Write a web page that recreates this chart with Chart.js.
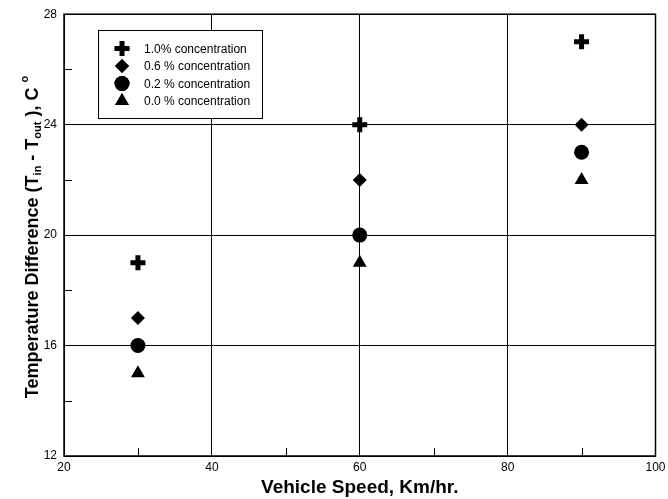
<!DOCTYPE html>
<html>
<head>
<meta charset="utf-8">
<script src="https://cdn.jsdelivr.net/npm/chart.js@4"></script>
<style>
html,body{margin:0;padding:0;background:#fff;}
#wrap{width:668px;height:499px;position:relative;}
</style>
</head>
<body>
<div id="wrap"><canvas id="c" width="668" height="499"></canvas></div>
<script>
const speeds = [30, 60, 90];
const conc10 = [19, 24, 27];
const conc06 = [17, 22, 24];
const conc02 = [16, 20, 23];
const conc00 = [15, 19, 22];
const seriesLabels = ['1.0% concentration', '0.6 % concentration', '0.2 % concentration', '0.0 % concentration'];
const xTicks = [20, 40, 60, 80, 100];
const yTicks = [12, 16, 20, 24, 28];
const xMinor = [30, 50, 70, 90];
const yMinor = [14, 18, 22, 26];

const styles = [
  {pointStyle: 'cross', radius: 7.5, borderWidth: 5},
  {pointStyle: 'rectRot', radius: 7, borderWidth: 0},
  {pointStyle: 'circle', radius: 7.5, borderWidth: 0},
  {pointStyle: 'triangle', radius: 8, borderWidth: 0}
];
const allData = [conc10, conc06, conc02, conc00];

const datasets = allData.map((vals, i) => ({
  label: seriesLabels[i],
  data: speeds.map((s, j) => ({x: s, y: vals[j]})),
  showLine: false,
  pointStyle: styles[i].pointStyle,
  pointRadius: styles[i].radius,
  pointHoverRadius: styles[i].radius,
  pointBorderWidth: styles[i].borderWidth,
  pointBackgroundColor: '#000',
  pointBorderColor: '#000',
  backgroundColor: '#000',
  borderColor: '#000'
}));

const FONT = '"Liberation Sans", Arial, sans-serif';

const decor = {
  id: 'decor',
  beforeDatasetsDraw(chart) {
    const ctx = chart.ctx, a = chart.chartArea, xs = chart.scales.x, ys = chart.scales.y;
    ctx.save();
    ctx.strokeStyle = '#000';
    ctx.lineWidth = 1;
    ctx.beginPath();
    xMinor.forEach(v => {
      const px = Math.round(xs.getPixelForValue(v)) + 0.5;
      ctx.moveTo(px, a.bottom); ctx.lineTo(px, a.bottom - 8);
    });
    yMinor.forEach(v => {
      const py = Math.round(ys.getPixelForValue(v)) + 0.5;
      ctx.moveTo(a.left, py); ctx.lineTo(a.left + 8, py);
    });
    ctx.stroke();
    ctx.lineWidth = 1.5;
    ctx.strokeRect(a.left, a.top, a.right - a.left, a.bottom - a.top);
    ctx.restore();
  },
  afterDraw(chart) {
    const ctx = chart.ctx;
    ctx.save();
    const lx = 98.5, ly = 30.5, lw = 164, lh = 88;
    ctx.fillStyle = '#fff';
    ctx.fillRect(lx, ly, lw, lh);
    ctx.strokeStyle = '#000';
    ctx.lineWidth = 1;
    ctx.strokeRect(lx, ly, lw, lh);
    const rowsY = [48.5, 66, 83.5, 101];
    ctx.font = '12px ' + FONT;
    ctx.textBaseline = 'middle';
    ctx.textAlign = 'left';
    seriesLabels.forEach((lab, i) => {
      Chart.helpers.drawPoint(ctx, {
        pointStyle: styles[i].pointStyle,
        radius: styles[i].radius,
        rotation: 0,
        borderWidth: styles[i].borderWidth
      }, 122, rowsY[i]);
      ctx.fillStyle = '#000';
      ctx.strokeStyle = '#000';
      ctx.lineWidth = styles[i].borderWidth;
      if (styles[i].borderWidth > 0) ctx.stroke();
      ctx.fill();
      ctx.fillStyle = '#000';
      ctx.fillText(lab, 144, rowsY[i] + 1);
    });
    ctx.translate(33, 237);
    ctx.rotate(-Math.PI / 2);
    const big = 'bold 18px ' + FONT, small = 'bold 11px ' + FONT;
    const parts = [
      {t: 'Temperature Difference (T', f: big, dy: 0},
      {t: 'in', f: small, dy: 5},
      {t: ' - T', f: big, dy: 0},
      {t: 'out', f: small, dy: 5},
      {t: ' ), C ', f: big, dy: 0},
      {t: 'o', f: small, dy: -8}
    ];
    let total = 0;
    parts.forEach(p => { ctx.font = p.f; p.w = ctx.measureText(p.t).width; total += p.w; });
    let x = -total / 2;
    ctx.fillStyle = '#000';
    ctx.textAlign = 'left';
    ctx.textBaseline = 'middle';
    parts.forEach(p => { ctx.font = p.f; ctx.fillText(p.t, x, p.dy); x += p.w; });
    ctx.restore();
  }
};

new Chart(document.getElementById('c'), {
  type: 'scatter',
  data: {datasets},
  options: {
    responsive: false,
    animation: false,
    events: [],
    layout: {padding: {top: 13, right: 0, left: 0, bottom: 0}},
    plugins: {legend: {display: false}, tooltip: {enabled: false}},
    scales: {
      x: {
        type: 'linear', min: 20, max: 100,
        afterBuildTicks: s => { s.ticks = xTicks.map(v => ({value: v})); },
        afterFit: s => { s.height = 43; s.paddingRight = 10; s.paddingLeft = 0; },
        grid: {color: '#000', lineWidth: 1, drawTicks: false, tickLength: 0},
        border: {display: true, color: '#000', width: 1},
        ticks: {color: '#000', font: {family: FONT, size: 12}, padding: 4, maxRotation: 0},
        title: {display: true, text: 'Vehicle Speed, Km/hr.', color: '#000', font: {family: FONT, size: 19, weight: 'bold'}, padding: {top: 0, bottom: 0}}
      },
      y: {
        type: 'linear', min: 12, max: 28,
        afterBuildTicks: s => { s.ticks = yTicks.map(v => ({value: v})); },
        afterFit: s => { s.width = 64; },
        grid: {color: '#000', lineWidth: 1, drawTicks: false, tickLength: 0},
        border: {display: true, color: '#000', width: 1},
        ticks: {color: '#000', font: {family: FONT, size: 12}, padding: 7}
      }
    }
  },
  plugins: [decor]
});
</script>
</body>
</html>
